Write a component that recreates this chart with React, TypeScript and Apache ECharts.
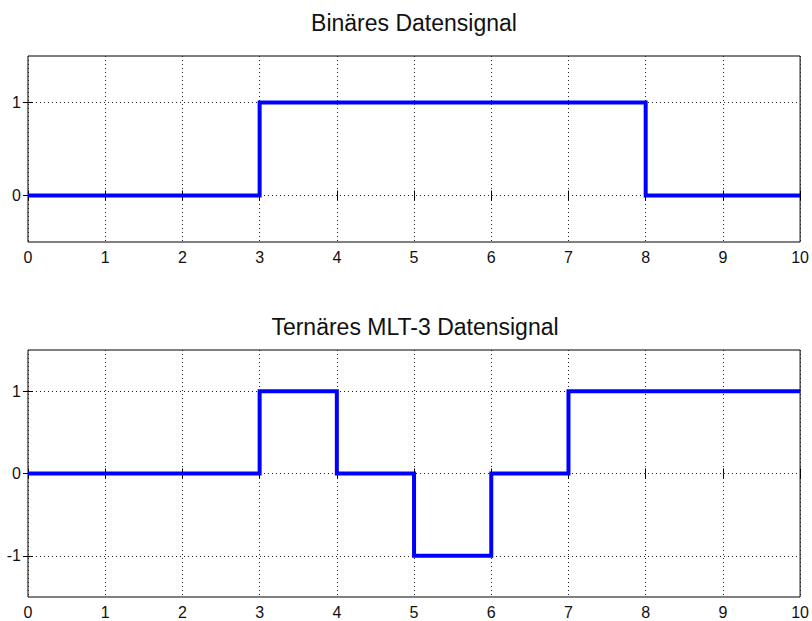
import React, { useEffect, useRef } from "react";
import * as echarts from "echarts";

const titles = ["Binäres Datensignal", "Ternäres MLT-3 Datensignal"];
const xTicks = [0, 1, 2, 3, 4, 5, 6, 7, 8, 9, 10];
const binaryTimes = [0, 3, 8, 10];
const binaryLevels = [0, 1, 0, 0];
const mlt3Times = [0, 3, 4, 5, 6, 7, 10];
const mlt3Levels = [0, 1, 0, -1, 0, 1, 1];
const binaryYTicks = [0, 1];
const mlt3YTicks = [-1, 0, 1];

const FONT = "Liberation Sans, Arial, Helvetica, sans-serif";

export default function App() {
  const ref = useRef<HTMLDivElement>(null);
  useEffect(() => {
    if (!ref.current) return;
    const chart = echarts.init(ref.current, undefined, { renderer: "svg" });
    const grids = [
      { left: 28, right: 10, top: 56, height: 186, show: true, borderColor: "#000", borderWidth: 1, backgroundColor: "#fff" },
      { left: 28, right: 10, top: 350, height: 247, show: true, borderColor: "#000", borderWidth: 1, backgroundColor: "#fff" },
    ];
    const yRanges = [
      { min: -0.5, max: 1.5, ticks: binaryYTicks },
      { min: -1.5, max: 1.5, ticks: mlt3YTicks },
    ];
    const dotted = { color: "#222", width: 1, type: [1, 3] as any };
    const xAxis: any[] = [];
    const yAxis: any[] = [];
    [0, 1].forEach((g) => {
      xAxis.push({
        type: "value", gridIndex: g, min: 0, max: 10, interval: 1, position: "bottom",
        axisLine: { show: false },
        axisTick: { show: true, inside: true, length: 5, lineStyle: { color: "#000" } },
        axisLabel: { show: true, color: "#111", fontSize: 16, fontFamily: FONT, margin: 7,
          customValues: xTicks },
        splitLine: { show: true, lineStyle: dotted },
      });
      xAxis.push({
        type: "value", gridIndex: g, min: 0, max: 10, interval: 1, position: "top",
        axisLine: { show: false },
        axisTick: { show: true, inside: true, length: 5, lineStyle: { color: "#000" } },
        axisLabel: { show: false },
        splitLine: { show: false },
      });
      const r = yRanges[g];
      yAxis.push({
        type: "value", gridIndex: g, min: r.min, max: r.max, position: "left",
        axisLine: { show: false },
        axisTick: { show: true, inside: true, length: 5, lineStyle: { color: "#000" }, customValues: r.ticks },
        axisLabel: { show: true, color: "#111", fontSize: 16, fontFamily: FONT, margin: 7, customValues: r.ticks },
        splitLine: { show: true, lineStyle: dotted },
      });
      yAxis.push({
        type: "value", gridIndex: g, min: r.min, max: r.max, position: "right",
        axisLine: { show: false },
        axisTick: { show: true, inside: true, length: 5, lineStyle: { color: "#000" }, customValues: r.ticks },
        axisLabel: { show: false, customValues: r.ticks },
        splitLine: { show: false },
      });
    });
    const lineSeries = (times: number[], levels: number[], g: number) => ({
      type: "line",
      xAxisIndex: g * 2,
      yAxisIndex: g * 2,
      step: "end",
      data: times.map((t, i) => [t, levels[i]]),
      showSymbol: false,
      symbol: "none",
      lineStyle: { color: "#0000ff", width: 4, join: "miter" },
      z: 5,
    });
    chart.setOption({
      animation: false,
      backgroundColor: "#fff",
      grid: grids,
      xAxis,
      yAxis,
      series: [lineSeries(binaryTimes, binaryLevels, 0), lineSeries(mlt3Times, mlt3Levels, 1)],
      graphic: [
        { type: "text", x: 414, y: 23, style: { text: titles[0], align: "center", verticalAlign: "middle", font: `23px ${FONT}`, fill: "#111" } },
        { type: "text", x: 415, y: 327, style: { text: titles[1], align: "center", verticalAlign: "middle", font: `23px ${FONT}`, fill: "#111" } },
      ],
    });
    return () => chart.dispose();
  }, []);
  return <div ref={ref} style={{ position: "absolute", left: 0, top: 0, width: 812, height: 621 }} />;
}
